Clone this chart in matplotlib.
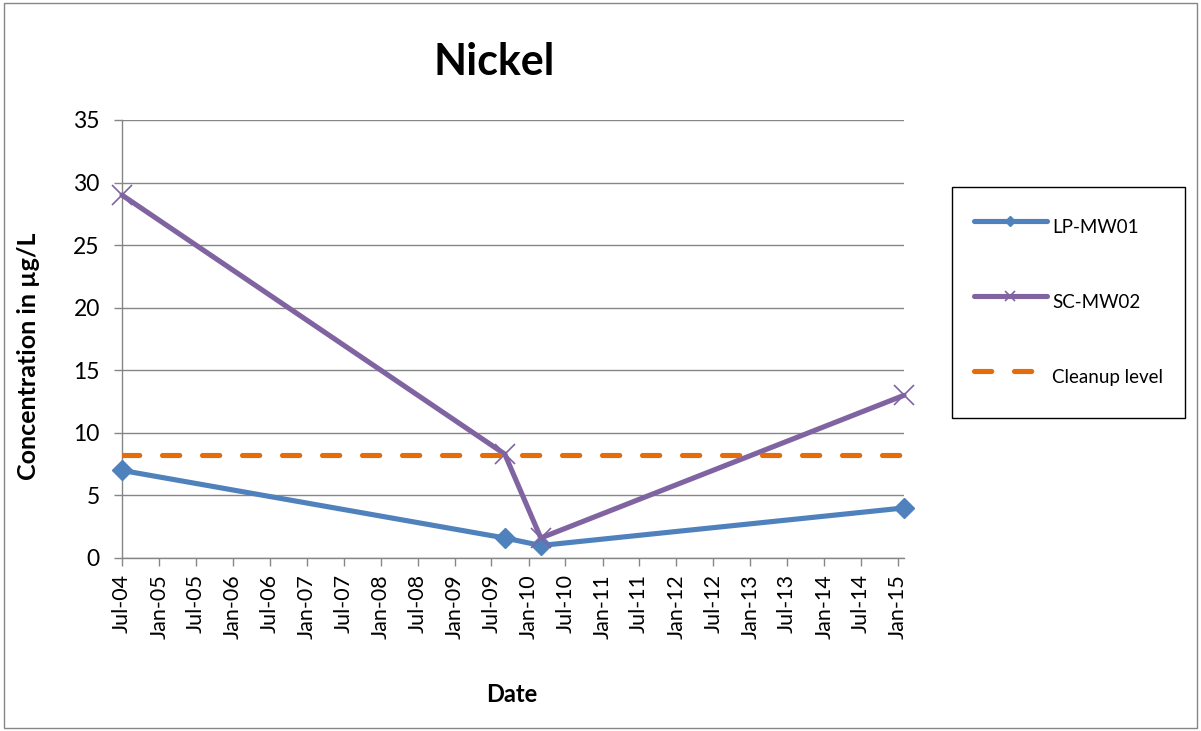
import matplotlib
matplotlib.use("Agg")
import matplotlib.pyplot as plt
import matplotlib.dates as mdates
from matplotlib.patches import Rectangle
import datetime as dt

plt.rcParams['font.family'] = ['Lato', 'DejaVu Sans']
plt.rcParams['lines.scale_dashes'] = False

# Sampling dates and concentrations (µg/L)
dates = [dt.date(2004, 7, 1), dt.date(2009, 9, 5), dt.date(2010, 3, 2), dt.date(2015, 1, 30)]
lp_mw01 = [7.0, 1.6, 1.0, 4.0]
sc_mw02 = [29.0, 8.3, 1.6, 13.0]
cleanup = [8.2, 8.2, 8.2, 8.2]

series_labels = ["LP-MW01", "SC-MW02", "Cleanup level"]
y_ticks = [0, 5, 10, 15, 20, 25, 30, 35]

W, H = 1201, 731
fig = plt.figure(figsize=(W / 100, H / 100), dpi=100)

# chart-area border
fig.patches.append(Rectangle((4 / W, 3 / H), (W - 8) / W, (H - 6) / H,
                             transform=fig.transFigure, fill=False,
                             edgecolor="#868686", linewidth=1.0))

ax = fig.add_axes([122 / W, 1 - 558 / H, (904 - 122) / W, (558 - 120) / H])

ax.plot(dates, lp_mw01, color="#4F81BD", linewidth=3.7, marker="D",
        markersize=10.5, markeredgewidth=1, solid_capstyle="round",
        label=series_labels[0], zorder=3, clip_on=False)
ax.plot(dates, sc_mw02, color="#8064A2", linewidth=3.7, marker="x",
        markersize=14, markeredgewidth=1.2, solid_capstyle="round",
        label=series_labels[1], zorder=4, clip_on=False)
ax.plot(dates, cleanup, color="#E46C0A", linewidth=3.7,
        dashes=(12.4, 16.4), dash_capstyle="round",
        label=series_labels[2], zorder=5)

ax.set_ylim(0, 35)
ax.set_yticks(y_ticks)
ax.set_xlim(dates[0], dates[-1])

ax.xaxis.set_major_locator(mdates.MonthLocator(bymonth=[1, 7]))
ax.xaxis.set_major_formatter(mdates.DateFormatter("%b-%y"))

ax.yaxis.grid(True, color="#868686", linewidth=1.0)
ax.set_axisbelow(True)
for side in ("top", "right"):
    ax.spines[side].set_visible(False)
for side in ("left", "bottom"):
    ax.spines[side].set_color("#868686")
    ax.spines[side].set_linewidth(1.0)

ax.tick_params(axis="y", direction="out", length=6, width=1, color="#868686",
               labelsize=16.5, pad=10)
ax.tick_params(axis="x", direction="out", length=5.5, width=1, color="#868686",
               labelsize=15.5, pad=6, labelrotation=90)

fig.text(494 / W, 1 - 62 / H, "Nickel", fontsize=31, fontweight="bold",
         ha="center", va="center")
fig.text(29 / W, 1 - 356 / H, "Concentration in µg/L", fontsize=18,
         fontweight="bold", rotation=90, ha="center", va="center")
fig.text(512 / W, 1 - 695 / H, "Date", fontsize=17, fontweight="bold",
         ha="center", va="center")

leg = ax.legend(loc="upper left", bbox_to_anchor=(952 / W, 1 - 187 / H),
                bbox_transform=fig.transFigure, fontsize=13.5, frameon=True,
                fancybox=False, edgecolor="black", framealpha=1,
                borderpad=1.15, labelspacing=2.05, handlelength=3.9,
                handleheight=2.65, handletextpad=0.3, markerscale=0.5,
                borderaxespad=0)
leg.get_frame().set_linewidth(1.0)

fig.savefig("out.png", dpi=100)
